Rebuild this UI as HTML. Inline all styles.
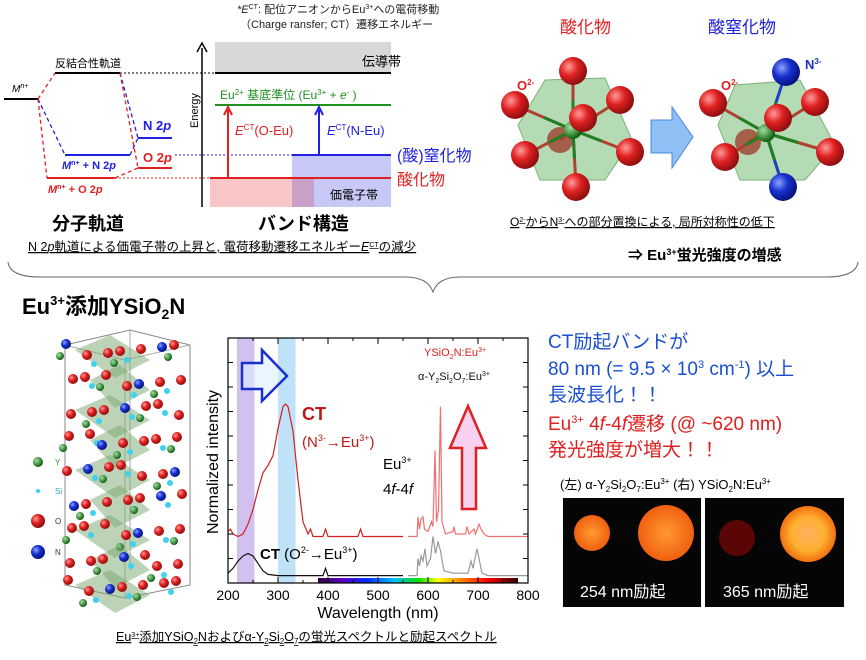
<!DOCTYPE html>
<html><head><meta charset="utf-8"><style>
body{margin:0;background:#fff}
svg{display:block;font-family:"Liberation Sans","Noto Sans CJK JP",sans-serif}
</style></head><body>
<svg id="s" width="866" height="660" viewBox="0 0 866 660">
<defs>
<radialGradient id="rs" cx="35%" cy="35%" r="65%"><stop offset="0" stop-color="#ff9a9a"/><stop offset="0.5" stop-color="#e02020"/><stop offset="1" stop-color="#901010"/></radialGradient>
<radialGradient id="bs" cx="35%" cy="35%" r="65%"><stop offset="0" stop-color="#8fa0ff"/><stop offset="0.5" stop-color="#1530d0"/><stop offset="1" stop-color="#0a1580"/></radialGradient>
<radialGradient id="gs" cx="35%" cy="35%" r="65%"><stop offset="0" stop-color="#9fe09f"/><stop offset="1" stop-color="#106010"/></radialGradient>
<radialGradient id="og1" cx="50%" cy="50%" r="50%"><stop offset="0" stop-color="#ff9a30"/><stop offset="1" stop-color="#f06010"/></radialGradient>
<radialGradient id="og2" cx="50%" cy="50%" r="50%"><stop offset="0" stop-color="#ffb060"/><stop offset="0.6" stop-color="#ffb030"/><stop offset="1" stop-color="#f07010"/></radialGradient>
<linearGradient id="rainbow" x1="0" x2="1"><stop offset="0" stop-color="#300040"/><stop offset="0.12" stop-color="#6000c0"/><stop offset="0.25" stop-color="#0030ff"/><stop offset="0.38" stop-color="#00c0ff"/><stop offset="0.5" stop-color="#00e000"/><stop offset="0.6" stop-color="#ffff00"/><stop offset="0.72" stop-color="#ff8000"/><stop offset="0.85" stop-color="#ff0000"/><stop offset="1" stop-color="#300000"/></linearGradient>
</defs>

<g font-size="11" fill="#222">
<text x="237" y="13"><tspan font-style="italic">*E</tspan><tspan font-size="7" dy="-4">CT</tspan><tspan dy="4">: 配位アニオンからEu</tspan><tspan font-size="7" dy="-4">3+</tspan><tspan dy="4">への電荷移動</tspan></text>
<text x="240" y="28">（Charge ransfer; CT）遷移エネルギー</text>
</g>

<g>
<line x1="4" y1="99" x2="38" y2="99" stroke="#000" stroke-width="2"/>
<text x="12" y="92" font-size="10" font-style="italic">M<tspan font-size="7" dy="-4">n+</tspan></text>
<line x1="55" y1="73" x2="120" y2="73" stroke="#000" stroke-width="2"/>
<text x="55" y="67" font-size="11">反結合性軌道</text>
<line x1="120" y1="73" x2="215" y2="73" stroke="#000" stroke-dasharray="2,2"/>
<g fill="none" stroke-width="1.3" stroke-dasharray="4,3">
<path d="M38 99 L55 73" stroke="#e02020"/>
<path d="M38 99 L65 155" stroke="#2020e0"/>
<path d="M38 99 L47 178" stroke="#e02020"/>
<path d="M120 73 L138 138" stroke="#2020e0"/>
<path d="M120 73 L138 168" stroke="#e02020"/>
<path d="M130 155 L138 138" stroke="#2020e0"/>
<path d="M115 178 L138 168" stroke="#e02020"/>
</g>
<line x1="65" y1="155" x2="130" y2="155" stroke="#2020e0" stroke-width="2"/>
<text x="62" y="169" font-size="11" fill="#2020e0" font-weight="bold"><tspan font-style="italic">M</tspan><tspan font-size="7" dy="-4">n+</tspan><tspan dy="4"> + N 2</tspan><tspan font-style="italic">p</tspan></text>
<line x1="47" y1="178" x2="115" y2="178" stroke="#e02020" stroke-width="2"/>
<text x="48" y="193" font-size="11" fill="#e02020" font-weight="bold"><tspan font-style="italic">M</tspan><tspan font-size="7" dy="-4">n+</tspan><tspan dy="4"> + O 2</tspan><tspan font-style="italic">p</tspan></text>
<line x1="138" y1="138" x2="172" y2="138" stroke="#2020e0" stroke-width="2"/>
<text x="143" y="130" font-size="13" font-weight="bold" fill="#2020e0">N 2<tspan font-style="italic">p</tspan></text>
<line x1="138" y1="168" x2="172" y2="168" stroke="#e02020" stroke-width="2"/>
<text x="143" y="162" font-size="13" font-weight="bold" fill="#e02020">O 2<tspan font-style="italic">p</tspan></text>
<line x1="175" y1="155" x2="292" y2="155" stroke="#2020e0" stroke-dasharray="2,2"/>
<line x1="115" y1="178" x2="210" y2="178" stroke="#e02020" stroke-dasharray="2,2"/>
<text x="52" y="230" font-size="18" font-weight="bold">分子軌道</text>
</g>

<g>
<rect x="215" y="42" width="176" height="31" fill="#d8d8d8"/>
<text x="362" y="66" font-size="13">伝導帯</text>
<line x1="215" y1="73" x2="391" y2="73" stroke="#000" stroke-width="2"/>
<rect x="292" y="155" width="99" height="52" fill="#c8c8f6"/>
<rect x="210" y="178" width="82" height="29" fill="#f8c6c6"/>
<rect x="292" y="178" width="22" height="29" fill="#c8a0c8"/>
<text x="330" y="199" font-size="12">価電子帯</text>
<line x1="292" y1="155" x2="391" y2="155" stroke="#2020e0" stroke-width="2"/>
<line x1="210" y1="178" x2="391" y2="178" stroke="#e02020" stroke-width="2"/>
<line x1="215" y1="105" x2="391" y2="105" stroke="#209020" stroke-width="2"/>
<text x="220" y="99" font-size="12" fill="#209020">Eu<tspan font-size="8" dy="-4">2+</tspan><tspan dy="4"> 基底準位 (Eu</tspan><tspan font-size="8" dy="-4">3+</tspan><tspan dy="4"> + </tspan><tspan font-style="italic">e</tspan><tspan font-size="8" dy="-4">-</tspan><tspan dy="4"> )</tspan></text>
<line x1="202" y1="207" x2="202" y2="48" stroke="#000" stroke-width="1.5"/>
<path d="M197 52 L202 43 L207 52" fill="none" stroke="#000" stroke-width="1.5"/>
<text transform="translate(198,128) rotate(-90)" font-size="11">Energy</text>
<line x1="228" y1="178" x2="228" y2="110" stroke="#e02020" stroke-width="2"/>
<path d="M224 115 L228 107 L232 115" fill="none" stroke="#e02020" stroke-width="2"/>
<text x="235" y="135" font-size="13" fill="#e02020"><tspan font-style="italic">E</tspan><tspan font-size="8" dy="-5">CT</tspan><tspan dy="5">(O-Eu)</tspan></text>
<line x1="319" y1="155" x2="319" y2="110" stroke="#2020e0" stroke-width="2"/>
<path d="M315 115 L319 107 L323 115" fill="none" stroke="#2020e0" stroke-width="2"/>
<text x="327" y="135" font-size="13" fill="#2020e0"><tspan font-style="italic">E</tspan><tspan font-size="8" dy="-5">CT</tspan><tspan dy="5">(N-Eu)</tspan></text>
<text x="397" y="161" font-size="16" fill="#2020e0">(酸)窒化物</text>
<text x="397" y="185" font-size="16" fill="#e02020">酸化物</text>
<text x="258" y="230" font-size="18" font-weight="bold">バンド構造</text>
</g>
<text x="28" y="251" font-size="12.5" text-decoration="underline">N 2<tspan font-style="italic">p</tspan>軌道による価電子帯の上昇と, 電荷移動遷移エネルギー<tspan font-style="italic">E</tspan><tspan font-size="7" dy="-4">CT</tspan><tspan dy="4">の減少</tspan></text>

<g><text x="560" y="33" font-size="17" fill="#e02020">酸化物</text></g>
<g><text x="708" y="33" font-size="17" fill="#2020e0">酸窒化物</text></g>
<g id="oct1"></g>
<g id="oct2"></g>
<path d="M651 120 L672 120 L672 107 L693 137 L672 168 L672 153 L651 153 Z" fill="#8fbff5" stroke="#4a8ae0"/>
<text x="510" y="226" font-size="12" text-decoration="underline">O<tspan font-size="7" dy="-4">2-</tspan><tspan dy="4">からN</tspan><tspan font-size="7" dy="-4">3-</tspan><tspan dy="4">への部分置換による, 局所対称性の低下</tspan></text>
<text x="628" y="260" font-size="15" font-weight="bold">⇒ Eu<tspan font-size="9" dy="-5">3+</tspan><tspan dy="5">蛍光強度の増感</tspan></text>

<path d="M8 262 Q10 277 40 277 L405 277 Q428 277 433 292 Q438 277 460 277 L826 277 Q856 277 858 262" fill="none" stroke="#666" stroke-width="1"/>

<text x="22" y="314" font-size="22" font-weight="bold">Eu<tspan font-size="13" dy="-9">3+</tspan><tspan dy="9">添加YSiO</tspan><tspan font-size="14" dy="5">2</tspan><tspan dy="-5">N</tspan></text>

<g id="crystal"></g>
<g font-size="8">
<circle cx="38" cy="462" r="5" fill="url(#gs)"/><text x="55" y="465" fill="#2a8a2a">Y</text>
<circle cx="38" cy="491" r="2" fill="#40d0f0"/><text x="55" y="494" fill="#30a0c0">Si</text>
<circle cx="38" cy="521" r="7" fill="url(#rs)"/><text x="55" y="524" fill="#333">O</text>
<circle cx="38" cy="552" r="7" fill="url(#bs)"/><text x="55" y="555" fill="#333">N</text>
</g>

<g id="chart"></g>

<g font-size="19">
<text x="548" y="348" fill="#1a4fd0">CT励起バンドが</text>
<text x="548" y="375" fill="#1a4fd0">80 nm (= 9.5 × 10<tspan font-size="11" dy="-7">3</tspan><tspan dy="7"> cm</tspan><tspan font-size="11" dy="-7">-1</tspan><tspan dy="7">) 以上</tspan></text>
<text x="548" y="401" fill="#1a4fd0">長波長化！！</text>
<text x="548" y="430" fill="#e02020">Eu<tspan font-size="11" dy="-7">3+</tspan><tspan dy="7"> 4</tspan><tspan font-style="italic">f</tspan>-4<tspan font-style="italic">f</tspan>遷移 (@ ~620 nm)</text>
<text x="548" y="456" fill="#e02020">発光強度が増大！！</text>
</g>
<text x="560" y="489" font-size="13">(左) α-Y<tspan font-size="8" dy="3">2</tspan><tspan dy="-3">Si</tspan><tspan font-size="8" dy="3">2</tspan><tspan dy="-3">O</tspan><tspan font-size="8" dy="3">7</tspan><tspan dy="-3">:Eu</tspan><tspan font-size="8" dy="-5">3+</tspan><tspan dy="5">  (右) YSiO</tspan><tspan font-size="8" dy="3">2</tspan><tspan dy="-3">N:Eu</tspan><tspan font-size="8" dy="-5">3+</tspan></text>
<g>
<rect x="563" y="498" width="138" height="109" fill="#050505"/>
<circle cx="592" cy="533" r="18" fill="url(#og1)"/>
<circle cx="666" cy="533" r="28" fill="url(#og1)"/>
<text x="580" y="597" font-size="16" fill="#fff">254 nm励起</text>
</g>
<g>
<rect x="705" y="498" width="139" height="109" fill="#050505"/>
<circle cx="737" cy="538" r="18" fill="#5a0606"/>
<circle cx="808" cy="534" r="28" fill="url(#og2)"/>
<text x="723" y="597" font-size="16" fill="#fff">365 nm励起</text>
</g>
<text x="116" y="641" font-size="12.5" text-decoration="underline">Eu<tspan font-size="7" dy="-4">3+</tspan><tspan dy="4">添加YSiO</tspan><tspan font-size="8" dy="3">2</tspan><tspan dy="-3">Nおよびα-Y</tspan><tspan font-size="8" dy="3">2</tspan><tspan dy="-3">Si</tspan><tspan font-size="8" dy="3">2</tspan><tspan dy="-3">O</tspan><tspan font-size="8" dy="3">7</tspan><tspan dy="-3">の蛍光スペクトルと励起スペクトル</tspan></text>
</svg>

<script>
// ---- chart data ----
const exWl = [200,205,210,220,230,240,250,260,270,280,290,300,310,315,320,330,340,350,360,365,370,390,395,400,460,465,470,550];
const exRed = [0.21,0.22,0.20,0.19,0.20,0.24,0.30,0.38,0.45,0.48,0.52,0.63,0.72,0.73,0.72,0.62,0.42,0.25,0.20,0.22,0.19,0.19,0.22,0.19,0.19,0.22,0.19,0.19];
const exBlackWl = [200,210,220,230,240,250,260,270,280,300,390,395,400,550];
const exBlack = [0.04,0.06,0.09,0.11,0.12,0.11,0.08,0.05,0.035,0.03,0.03,0.06,0.03,0.03];
const emWl = [560,578,580,583,586,590,593,600,607,610,614,617,621,625,628,635,650,652,655,675,678,682,692,695,702,706,712,720,800];
const emRed = [0.19,0.19,0.27,0.22,0.26,0.27,0.22,0.21,0.25,0.23,0.54,0.25,0.30,0.72,0.25,0.20,0.21,0.23,0.20,0.20,0.23,0.20,0.22,0.20,0.24,0.22,0.20,0.19,0.19];
const emBlackWl = [560,578,580,583,586,590,594,598,605,610,615,620,625,632,650,680,686,690,698,702,708,720,800];
const emBlack = [0.03,0.03,0.10,0.07,0.11,0.09,0.14,0.07,0.10,0.19,0.12,0.17,0.13,0.05,0.04,0.04,0.09,0.06,0.14,0.10,0.04,0.03,0.03];
const xTicks = [200,300,400,500,600,700,800];
const yTicks = [0.1,0.2,0.3,0.4,0.5,0.6,0.7,0.8,0.9];

const NS='http://www.w3.org/2000/svg';
const X0=228,X1=528,Y0=583,Y1=338;
const xs=w=>X0+(w-200)/600*(X1-X0);
const ys=v=>Y0-v*(Y0-Y1);
function mk(tag,attrs,parent){const e=document.createElementNS(NS,tag);for(const k in attrs)e.setAttribute(k,attrs[k]);parent.appendChild(e);return e;}
const chart=document.getElementById('chart');

let r=mk('rect',{x:xs(218),y:Y1,width:xs(253)-xs(218),height:Y0-Y1,fill:'#d2c0f0'},chart);


r=mk('rect',{x:xs(300),y:Y1,width:xs(335)-xs(300),height:Y0-Y1,fill:'#bfe2f8'},chart);


r=mk('rect',{x:xs(380),y:Y0-5,width:xs(780)-xs(380),height:5,fill:'url(#rainbow)'},chart);



function line(wl,vals,color,name){
  const d=wl.map((w,i)=>(i?'L':'M')+xs(w).toFixed(1)+' '+ys(vals[i]).toFixed(1)).join(' ');
  const p=mk('path',{d:d,fill:'none',stroke:color,'stroke-width':1.2},chart);
  
  
}
line(exWl,exRed,'#d02020','ysio2n-excitation');
line(exBlackWl,exBlack,'#111','y2si2o7-excitation');
line(emWl,emRed,'#f07070','ysio2n-emission');
line(emBlackWl,emBlack,'#999','y2si2o7-emission');

let fr=mk('rect',{x:X0,y:Y1,width:X1-X0,height:Y0-Y1,fill:'none',stroke:'#000','stroke-width':1.2},chart);


const ax=mk('g',{stroke:'#000','stroke-width':1},chart);


for(let w=200;w<=800;w+=50){const L=w%100?3:6;mk('line',{x1:xs(w),x2:xs(w),y1:Y0,y2:Y0-L},ax);mk('line',{x1:xs(w),x2:xs(w),y1:Y1,y2:Y1+L},ax);}
yTicks.forEach(v=>{mk('line',{x1:X0,x2:X0+5,y1:ys(v),y2:ys(v)},ax);mk('line',{x1:X1,x2:X1-5,y1:ys(v),y2:ys(v)},ax);});
xTicks.forEach(w=>{const t=mk('text',{x:xs(w),y:600,'font-size':14,'text-anchor':'middle'},chart);t.textContent=w;

});
let t=mk('text',{x:378,y:618,'font-size':16,'text-anchor':'middle'},chart);t.textContent='Wavelength (nm)';


t=mk('text',{transform:'translate(218,462) rotate(-90)','font-size':16,'text-anchor':'middle'},chart);t.textContent='Normalized intensity';



chart.insertAdjacentHTML('beforeend',`
<path d="M242 363 L262 363 L262 350 L287 376 L262 401 L262 389 L242 389 Z" fill="rgba(220,240,255,0.6)" stroke="#1a2fd0" stroke-width="2.5"/>
<path d="M462 509 L476 509 L476 448 L486 448 L468 406 L450 448 L462 448 Z" fill="#f8d0f0" stroke="#e02020" stroke-width="2.5"/>
<text x="424" y="356" font-size="11" fill="#e02020">YSiO<tspan font-size="7" dy="3">2</tspan><tspan dy="-3">N:Eu</tspan><tspan font-size="7" dy="-4">3+</tspan></text>
<text x="418" y="380" font-size="11" fill="#111">α-Y<tspan font-size="7" dy="3">2</tspan><tspan dy="-3">Si</tspan><tspan font-size="7" dy="3">2</tspan><tspan dy="-3">O</tspan><tspan font-size="7" dy="3">7</tspan><tspan dy="-3">:Eu</tspan><tspan font-size="7" dy="-4">3+</tspan></text>
<text x="302" y="420" font-size="18" font-weight="bold" fill="#c01818">CT</text>
<text x="302" y="447" font-size="15" fill="#c01818">(N<tspan font-size="9" dy="-6">3-</tspan><tspan dy="6">→Eu</tspan><tspan font-size="9" dy="-6">3+</tspan><tspan dy="6">)</tspan></text>
<text x="383" y="469" font-size="15">Eu<tspan font-size="9" dy="-6">3+</tspan></text>
<text x="383" y="494" font-size="15">4<tspan font-style="italic">f</tspan>-4<tspan font-style="italic">f</tspan></text>
<text x="260" y="559" font-size="15"><tspan font-weight="bold">CT</tspan> (O<tspan font-size="9" dy="-6">2-</tspan><tspan dy="6">→Eu</tspan><tspan font-size="9" dy="-6">3+</tspan><tspan dy="6">)</tspan></text>`);

function oct(id,cx,cy,atoms,hexPts,labels){
  const g=document.getElementById(id);
  let s=`<polygon points="${hexPts}" fill="#8cc88c" fill-opacity="0.65" stroke="#7ab07a"/>`;
  atoms.filter(a=>a[3]).forEach(a=>{s+=`<circle cx="${a[0]}" cy="${a[1]}" r="13" fill="#a04030" opacity="0.8"/>`;});
  atoms.forEach(a=>s+=`<line x1="${cx}" y1="${cy}" x2="${a[0]}" y2="${a[1]}" stroke="${a[2]=='bs'?'#2040c0':'#b04030'}" stroke-width="3"/><line x1="${cx}" y1="${cy}" x2="${(cx+a[0])/2}" y2="${(cy+a[1])/2}" stroke="#208020" stroke-width="3"/>`);
  s+=`<circle cx="${cx}" cy="${cy}" r="9" fill="url(#gs)"/>`;
  atoms.filter(a=>!a[3]).forEach(a=>s+=`<circle cx="${a[0]}" cy="${a[1]}" r="14" fill="url(#${a[2]})"/>`);
  s+=labels;
  g.innerHTML=s;
}
oct('oct1',573,130,
 [[573,71,'rs'],[515,105,'rs'],[620,100,'rs'],[560,140,'rs',1],[525,155,'rs'],[630,152,'rs'],[576,187,'rs'],[583,118,'rs']],
 '545,80 605,78 632,140 605,180 540,180 518,125',
 '<text x="517" y="90" font-size="13" font-weight="bold" fill="#e02020">O<tspan font-size="8" dy="-5">2-</tspan></text>');
oct('oct2',766,133,
 [[786,72,'bs'],[713,103,'rs'],[815,102,'rs'],[748,142,'rs',1],[725,157,'rs'],[830,152,'rs'],[783,187,'bs'],[778,118,'rs']],
 '735,85 800,80 835,145 805,180 740,180 718,125',
 '<text x="721" y="90" font-size="13" font-weight="bold" fill="#e02020">O<tspan font-size="8" dy="-5">2-</tspan></text><text x="805" y="69" font-size="13" font-weight="bold" fill="#1a2fd0">N<tspan font-size="8" dy="-5">3-</tspan></text>');

(function(){
  const g=document.getElementById('crystal');let s='';
  s+=`<polygon points="65,345 130,330 190,345 190,585 125,598 65,585" fill="none" stroke="#888"/>`;
  s+=`<line x1="130" y1="330" x2="130" y2="570" stroke="#aaa"/><line x1="65" y1="345" x2="125" y2="360" stroke="#aaa"/><line x1="125" y1="360" x2="190" y2="345" stroke="#aaa"/><line x1="125" y1="360" x2="125" y2="598" stroke="#aaa"/>`;
  const rows=[350,380,410,440,470,500,530,560,585];
  rows.forEach((y,ri)=>{
    s+=`<polygon points="${75+ri%2*15},${y} ${110+ri%2*10},${y-15} ${150},${y+10} ${115},${y+28}" fill="#7aa870" fill-opacity="0.5"/>`;
    [70,88,106,124,142,160,178].forEach((x,ci)=>{
      const xx=x+((ri*7+ci*3)%9)-4,yy=y+((ri*5+ci*11)%13)-6;
      const c=(ri+ci)%5==0?'bs':'rs';
      s+=`<circle cx="${xx}" cy="${yy}" r="5" fill="url(#${c})"/>`;
      if(ci%2)s+=`<circle cx="${xx+7}" cy="${yy+9}" r="3" fill="#40d0f0"/>`;
      if((ri+ci)%3==0)s+=`<circle cx="${xx-6}" cy="${yy+12}" r="4" fill="url(#gs)"/>`;
    });
  });
  g.innerHTML=s;
})();
</script>
</body></html>
